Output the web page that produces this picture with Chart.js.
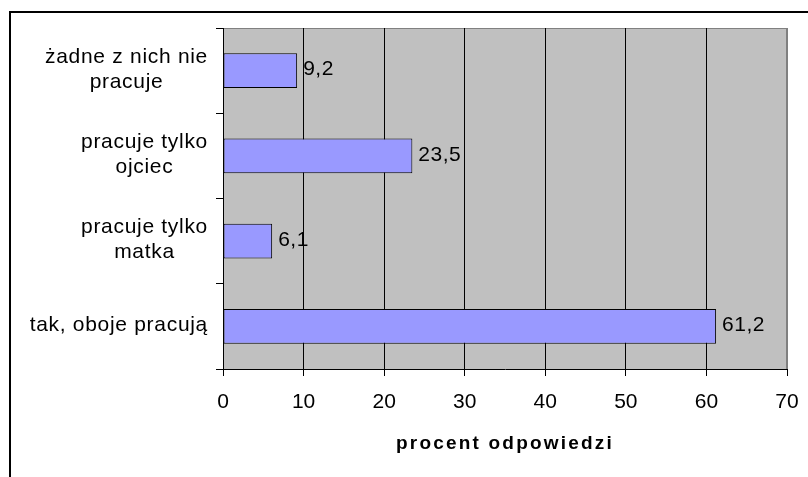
<!DOCTYPE html>
<html><head><meta charset="utf-8">
<script src="https://cdn.jsdelivr.net/npm/chart.js@4/dist/chart.umd.min.js"></script>
<style>html,body{margin:0;padding:0;background:#fff;overflow:hidden}</style>
</head><body>
<canvas id="c" width="808" height="477"></canvas>
<script>
const categories = [
  ['żadne z nich nie', 'pracuje'],
  ['pracuje tylko', 'ojciec'],
  ['pracuje tylko', 'matka'],
  ['tak, oboje pracują']
];
const values = [9.2, 23.5, 6.1, 61.2];
const xMin = 0, xMax = 70, xStep = 10;
const axisTitle = 'procent odpowiedzi';

const FONT = "'Liberation Sans', Arial, sans-serif";
const fmt = v => v.toFixed(1).replace('.', ',');

const decor = {
  id: 'decor',
  beforeDraw(chart) {
    const {ctx, chartArea: a} = chart;
    ctx.save();
    ctx.fillStyle = '#C0C0C0';
    ctx.fillRect(a.left, a.top, a.right - a.left, a.bottom - a.top);
    ctx.strokeStyle = '#808080';
    ctx.lineWidth = 1;
    ctx.beginPath();
    ctx.moveTo(a.left, a.top + 0.5); ctx.lineTo(a.right, a.top + 0.5);
    ctx.moveTo(a.right - 0.5, a.top); ctx.lineTo(a.right - 0.5, a.bottom);
    ctx.stroke();
    ctx.restore();
    const s = chart.scales.x;
    if (s && !s._lsPatched) {
      const orig = s.drawTitle;
      s.drawTitle = function () {
        const c = this.ctx; c.save(); c.letterSpacing = '2.2px'; orig.call(this); c.restore();
      };
      s._lsPatched = true;
    }
  },
  afterDatasetsDraw(chart) {
    const {ctx} = chart;
    const meta = chart.getDatasetMeta(0);
    ctx.save();
    ctx.letterSpacing = '0.5px';
    ctx.font = '21px ' + FONT;
    ctx.fillStyle = '#000';
    ctx.textAlign = 'left';
    ctx.textBaseline = 'middle';
    meta.data.forEach((bar, i) => {
      ctx.fillText(fmt(values[i]), bar.x + 6, bar.y - 1);
    });
    ctx.restore();
  },
  afterDraw(chart) {
    const {ctx} = chart;
    const y = chart.scales.y;
    ctx.save();
    ctx.letterSpacing = '0.7px';
    ctx.font = '21px ' + FONT;
    ctx.fillStyle = '#000';
    ctx.textAlign = 'center';
    ctx.textBaseline = 'middle';
    const right = 208, lh = 25;
    categories.forEach((lines, i) => {
      const cy = y.getPixelForValue(i) - 1;
      const w = Math.max(...lines.map(l => ctx.measureText(l).width));
      const cx = right - w / 2;
      const y0 = cy - (lines.length - 1) * lh / 2;
      lines.forEach((l, j) => ctx.fillText(l, cx, y0 + j * lh));
    });
    ctx.lineWidth = 2;
    ctx.strokeStyle = '#000';
    ctx.strokeRect(10, 12, 1200, 1200);
    ctx.restore();
  }
};

new Chart(document.getElementById('c'), {
  type: 'bar',
  data: {
    labels: categories,
    datasets: [{
      data: values,
      backgroundColor: '#9999FF',
      borderColor: '#000',
      borderWidth: 1,
      borderSkipped: false,
      barPercentage: 0.41,
      categoryPercentage: 1
    }]
  },
  options: {
    indexAxis: 'y',
    responsive: false,
    animation: false,
    devicePixelRatio: 1,
    layout: {padding: {top: 28, right: 21, left: 0, bottom: 0}},
    plugins: {legend: {display: false}, tooltip: {enabled: false}},
    scales: {
      x: {
        min: xMin, max: xMax,
        ticks: {stepSize: xStep, color: '#000', font: {size: 21, family: FONT}, padding: 14},
        grid: {
          color: c => (c.tick && c.tick.value === xMax) ? '#808080' : '#000',
          lineWidth: 1, tickColor: '#000', tickLength: 7
        },
        border: {color: '#000', width: 1},
        title: {display: true, text: axisTitle, color: '#000',
                font: {size: 19, weight: 'bold', family: FONT}, padding: {top: 0, bottom: 22}},
        afterFit: s => { s.height = 108; s.paddingLeft = 0; s.paddingRight = 0; }
      },
      y: {
        ticks: {display: false},
        grid: {drawOnChartArea: false, tickColor: '#000', tickLength: 7, offset: true},
        border: {color: '#000', width: 1},
        afterFit: s => { s.width = 223; s.paddingTop = 0; s.paddingBottom = 0; }
      }
    }
  },
  plugins: [decor]
});
</script>
</body></html>
